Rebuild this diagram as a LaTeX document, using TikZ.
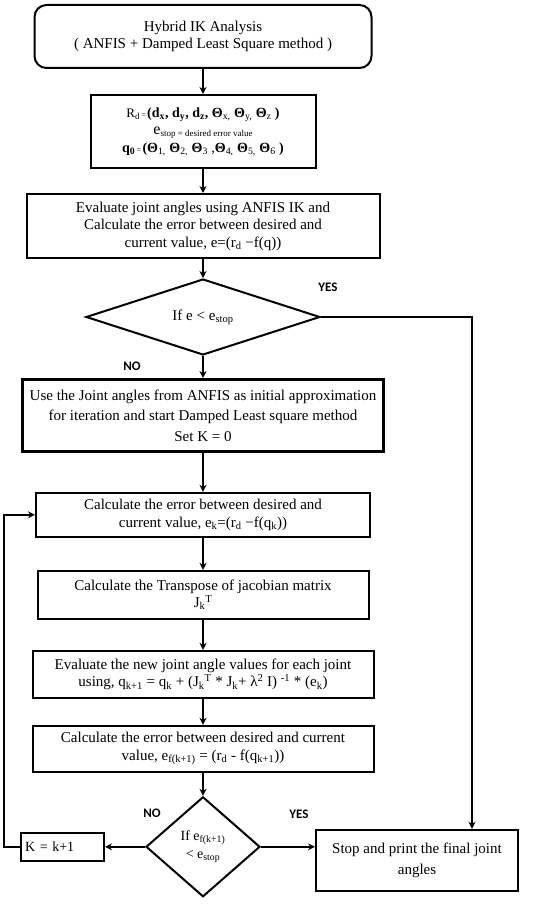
\documentclass[tikz,border=0pt]{standalone}
\usepackage{fontspec}
\setmainfont{Liberation Serif}
\newfontfamily\yesnofont{Carlito}
\usetikzlibrary{arrows.meta,positioning,shapes.geometric}
\tikzset{
    flowbox/.style={draw, line width=2pt, align=center, inner sep=2pt, font=\fontsize{15}{17.5}\selectfont},
    flowstart/.style={flowbox, rounded corners=12pt},
    flowdecision/.style={draw, diamond, line width=2pt, align=center, inner sep=0pt, font=\fontsize{15}{16}\selectfont},
    flowarrow/.style={-{Stealth[length=7pt,width=7pt]}, line width=2pt},
    flowlabel/.style={font=\yesnofont\bfseries\fontsize{13}{15}\selectfont}
}
\newcommand{\bigtxt}{\fontsize{14}{16}\selectfont}
\newcommand{\tinytxt}{\fontsize{8}{8}\selectfont}

\begin{document}
\begin{tikzpicture}[x=1pt, y=1pt]
        \useasboundingbox (0,0) rectangle (550,-907);
        \node[flowstart, minimum width=337pt, minimum height=63pt] (hybrid) at (203,-36.5) {Hybrid IK Analysis\\( ANFIS + Damped Least Square method )};
        \node[flowbox, minimum width=225pt, minimum height=73pt, below=25pt of hybrid] (inputs) {{\fontsize{13}{15}\selectfont R\textsubscript{d}}{\tinytxt\,=\,}{\bigtxt\textbf{(d\textsubscript{x}, d\textsubscript{y}, d\textsubscript{z}, Θ}\textsubscript{x,} \textbf{Θ}\textsubscript{y,} \textbf{Θ}\textsubscript{z} \textbf{)}}\\[0pt]
            {\fontsize{16}{16}\selectfont e}\raisebox{-2pt}{\fontsize{9}{9}\selectfont stop = desired error value}\\[0pt]
            {\bigtxt\textbf{q\textsubscript{0}}}{\tinytxt\,=\,}{\bigtxt\textbf{(Θ}\textsubscript{1,} \textbf{Θ}\textsubscript{2,} \textbf{Θ}\textsubscript{3} ,\textbf{Θ}\textsubscript{4,} \textbf{Θ}\textsubscript{5,} \textbf{Θ}\textsubscript{6} \textbf{)}}};
        \node[flowbox, minimum width=353pt, minimum height=64pt, below=24pt of inputs] (anfis) {Evaluate joint angles using ANFIS IK and\\Calculate the error between desired and\\current value, e=(r\textsubscript{d} −f(q))};
        \node[flowdecision, minimum width=234pt, minimum height=71pt, below=19pt of anfis] (check) {If e < e\textsubscript{stop}};
        \node[flowbox, line width=2.8pt, minimum width=361pt, minimum height=72pt, below=22pt of check] (init) {Use the Joint angles from ANFIS as initial approximation\\[3pt]for iteration and start Damped Least square method\\[3pt]Set K = 0};
        \node[flowbox, minimum width=334pt, minimum height=44pt, below=39pt of init] (error) {Calculate the error between desired and\\current value, e\textsubscript{k}=(r\textsubscript{d} −f(q\textsubscript{k}))};
        \node[flowbox, minimum width=331pt, minimum height=48pt, below=32pt of error] (jacob) {Calculate the Transpose of jacobian matrix\\J\textsubscript{k}\textsuperscript{T}};
        \node[flowbox, minimum width=341pt, minimum height=47pt, below=30pt of jacob] (update) {Evaluate the new joint angle values for each joint\\using, q\textsubscript{k+1} = q\textsubscript{k} + (J\textsubscript{k}\textsuperscript{T} * J\textsubscript{k}+ λ\textsuperscript{2} I) \textsuperscript{-1} * (e\textsubscript{k})};
        \node[flowbox, minimum width=341pt, minimum height=46pt, below=26pt of update] (newerr) {Calculate the error between desired and current\\value, e\textsubscript{f(k+1)} = (r\textsubscript{d} - f(q\textsubscript{k+1}))};
        \node[flowdecision, minimum width=114pt, minimum height=100pt, below=23pt of newerr, font=\fontsize{14}{18}\selectfont] (stopcheck) {If e\textsubscript{f(k+1)}\\< e\textsubscript{stop}};
        \node[flowbox, text width=75pt, align=left, inner sep=4pt, minimum height=28pt, left=40pt of stopcheck, font=\fontsize{14}{15}\selectfont] (incr) {K = k+1};
        \node[flowbox, minimum width=202pt, minimum height=61pt, right=54pt of stopcheck, yshift=-13.5pt] (final) {Stop and print the final joint\\[4pt]angles};
        \node[flowlabel] (yes1) at ([shift={(7pt,30pt)}]check.east) {YES};
        \node[flowlabel] (no1) at ([shift={(-71pt,-10pt)}]check.south) {NO};
        \node[flowlabel] (no2) at ([shift={(-51pt,-17pt)}]stopcheck.north) {NO};
        \node[flowlabel] (yes2) at ([shift={(96pt,-18pt)}]stopcheck.north) {YES};
        \draw[flowarrow] (hybrid) -- (inputs);
        \draw[flowarrow] (inputs) -- (anfis);
        \draw[flowarrow] (anfis) -- (check);
        \draw[flowarrow] (check) -- (init);
        \draw[flowarrow] (init) -- (error);
        \draw[flowarrow] (error) -- (jacob);
        \draw[flowarrow] (jacob) -- (update);
        \draw[flowarrow] (update) -- (newerr);
        \draw[flowarrow] (newerr) -- (stopcheck);
        \draw[flowarrow] (stopcheck) -- (incr);
        \draw[flowarrow] (stopcheck.east) -- (stopcheck.east -| final.west);
        \draw[flowarrow] (check.east) -| ([xshift=55pt]final.north);
        \draw[flowarrow] (incr.west) -- ++(-16pt,0) |- (error.west);
    \end{tikzpicture}
\end{document}
